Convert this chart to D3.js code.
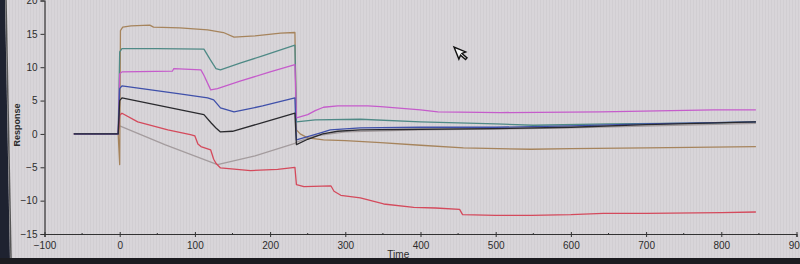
<!DOCTYPE html>
<html>
<head>
<meta charset="utf-8">
<script src="https://d3js.org/d3.v7.min.js"></script>
<style>
  body { margin: 0; background: #d8d5d9; overflow: hidden; }
  text { font-family: "Liberation Sans", Arial, sans-serif; fill: #2c2c2c; }
</style>
</head>
<body>
<svg id="chart" width="800" height="264"></svg>
<script>
// values, [time, response]
var xTicks = [-100, 0, 100, 200, 300, 400, 500, 600, 700, 800, 900];
var yTicks = [-15, -10, -5, 0, 5, 10, 15, 20];

var brown = [[-61,0],[-2,0],[0,-4.6],[1,15.5],[4,16],[15,16.2],[40,16.3],[45,16],[80,15.9],[117,15.6],[138,15.2],[152,14.5],[180,14.7],[214,15.1],[233,15.2],
  [235,0.6],[240,0],[250,-0.6],[271,-0.9],[300,-1.0],[347,-1.3],[400,-1.7],[457,-2.1],[547,-2.3],[600,-2.2],[700,-2.1],[846,-1.9]];
var teal = [[-61,0],[-2,0],[0,12.3],[3,12.8],[50,12.8],[112,12.7],[120,11.2],[128,9.8],[134,9.6],[160,10.6],[190,11.7],[233,13.3],
  [235,1.8],[260,2.1],[320,2.2],[400,1.8],[500,1.5],[550,1.3],[650,1.5],[760,1.6],[846,1.8]];
var pink = [[-61,0],[-2,0],[0,9.0],[3,9.3],[70,9.4],[72,9.8],[108,9.6],[112,8.8],[121,6.6],[130,6.8],[160,7.9],[200,9.3],[233,10.4],
  [235,2.4],[250,2.9],[260,3.5],[271,4.0],[290,4.2],[330,4.2],[347,4.1],[400,3.6],[423,3.3],[507,3.2],[640,3.3],[790,3.6],[846,3.6]];
var blue = [[-61,0],[-2,0],[0,6.8],[3,7.2],[80,6.0],[117,5.4],[125,5.1],[134,3.9],[152,3.3],[190,4.2],[233,5.4],
  [235,-0.9],[250,-0.4],[265,0.1],[280,0.6],[320,0.9],[400,1.0],[500,1.0],[600,1.2],[700,1.5],[846,1.8]];
var black = [[-61,0],[-2,0],[0,5.0],[3,5.4],[81,3.6],[112,2.9],[122,1.6],[128,0.9],[134,0.3],[150,0.4],[190,1.7],[233,3.1],
  [235,-1.6],[250,-0.8],[270,0],[290,0.4],[320,0.6],[400,0.7],[500,0.8],[600,1.0],[700,1.4],[846,1.8]];
var red = [[-61,0],[-2,0],[0,2.8],[3,3.1],[24,1.8],[64,0.6],[94,-0.1],[100,-0.3],[104,-1.5],[108,-1.9],[121,-2.4],[125,-3.8],[128,-4.4],[134,-5.1],[174,-5.5],[210,-5.3],[233,-5.0],
  [235,-7.6],[245,-7.9],[281,-7.8],[285,-8.6],[294,-9.2],[320,-9.6],[351,-10.5],[391,-11],[420,-11.1],[452,-11.3],[456,-12.1],[500,-12.2],[547,-12.2],[600,-12.1],[643,-11.9],[700,-11.9],[800,-11.8],[846,-11.7]];
var gray = [[-61,0],[-2,0],[0,1.2],[60,-1.6],[130,-4.6],[180,-3.3],[233,-1.4],
  [236,-1.2],[260,-0.3],[300,0.3],[400,0.6],[600,0.9],[846,1.6]];

var seriesList = [gray, brown, red, teal, pink, blue, black];
var seriesColors = ["#a49c9e", "#a6845c", "#d44a5c", "#4f8a86", "#c55ccb", "#3f50aa", "#2a2a2e"];

var svg = d3.select("#chart");

// moire stripes of the photographed screen
var defs = svg.append("defs");
var pat = defs.append("pattern").attr("id", "stripes")
  .attr("width", 3).attr("height", 4).attr("patternUnits", "userSpaceOnUse");
pat.append("rect").attr("width", 1).attr("height", 4).attr("fill", "#c4c0c6");
svg.append("rect").attr("width", 800).attr("height", 264).attr("fill", "url(#stripes)").attr("opacity", 0.35);

var x = d3.scaleLinear().domain([-100, 900]).range([44.5, 796.5]);
var y = d3.scaleLinear().domain([-15, 20]).range([234, 0.5]);

// axes
var xAxis = d3.axisBottom(x).tickValues(xTicks).tickSize(3).tickFormat(d3.format("d"));
var gx = svg.append("g").attr("transform", "translate(0," + y(-15) + ")").call(xAxis);
gx.selectAll("line").attr("y1", -2).attr("y2", 3);
var minorX = d3.range(-50, 900, 100);
gx.selectAll(".minor").data(minorX).enter().append("line")
  .attr("x1", function(d) { return x(d); }).attr("x2", function(d) { return x(d); })
  .attr("y1", -1).attr("y2", 1).attr("stroke", "#333");

var yAxis = d3.axisLeft(y).tickValues(yTicks).tickSize(4);
var gy = svg.append("g").attr("transform", "translate(" + x(-100) + ",0)").call(yAxis);

svg.selectAll(".domain").attr("stroke", "#333").attr("stroke-width", 1.2);
svg.selectAll(".tick line").attr("stroke", "#333");
svg.selectAll(".tick text").style("font-size", "10px").attr("fill", "#2c2c2c");
gx.selectAll(".tick text").attr("dy", "0.9em");

svg.append("text").attr("x", x(300) + 53).attr("y", 258)
  .attr("text-anchor", "middle").style("font-size", "10px").text("Time");
svg.append("text").attr("transform", "translate(20,125) rotate(-90)")
  .attr("text-anchor", "middle").style("font-size", "9px").style("font-weight", "bold").text("Response");

// curves
var line = d3.line()
  .x(function(d) { return x(d[0]); })
  .y(function(d) { return y(d[1]); });

svg.selectAll(".curve").data(seriesList).enter().append("path")
  .attr("class", "curve")
  .attr("d", line)
  .attr("fill", "none")
  .attr("stroke", function(d, i) { return seriesColors[i]; })
  .attr("stroke-width", 1.3)
  .attr("stroke-linejoin", "round");

// mouse pointer on screen
svg.append("path")
  .attr("d", "M0,0 L0,13 L3,10 L6,16 L8,15 L5,9 L9,9 Z")
  .attr("transform", "translate(454,47) rotate(-22)")
  .attr("fill", "#f4f4f4").attr("stroke", "#111").attr("stroke-width", 1.4);

// monitor bezel edges
svg.append("path").attr("d", "M0,0 L5,0 L10,264 L0,264 Z").attr("fill", "#1e2230");
svg.append("line").attr("x1", 6).attr("y1", 0).attr("x2", 11).attr("y2", 258).attr("stroke", "#555").attr("stroke-width", 1.5);
svg.append("rect").attr("x", 0).attr("y", 258).attr("width", 800).attr("height", 6).attr("fill", "#1c1c20");
</script>
</body>
</html>
